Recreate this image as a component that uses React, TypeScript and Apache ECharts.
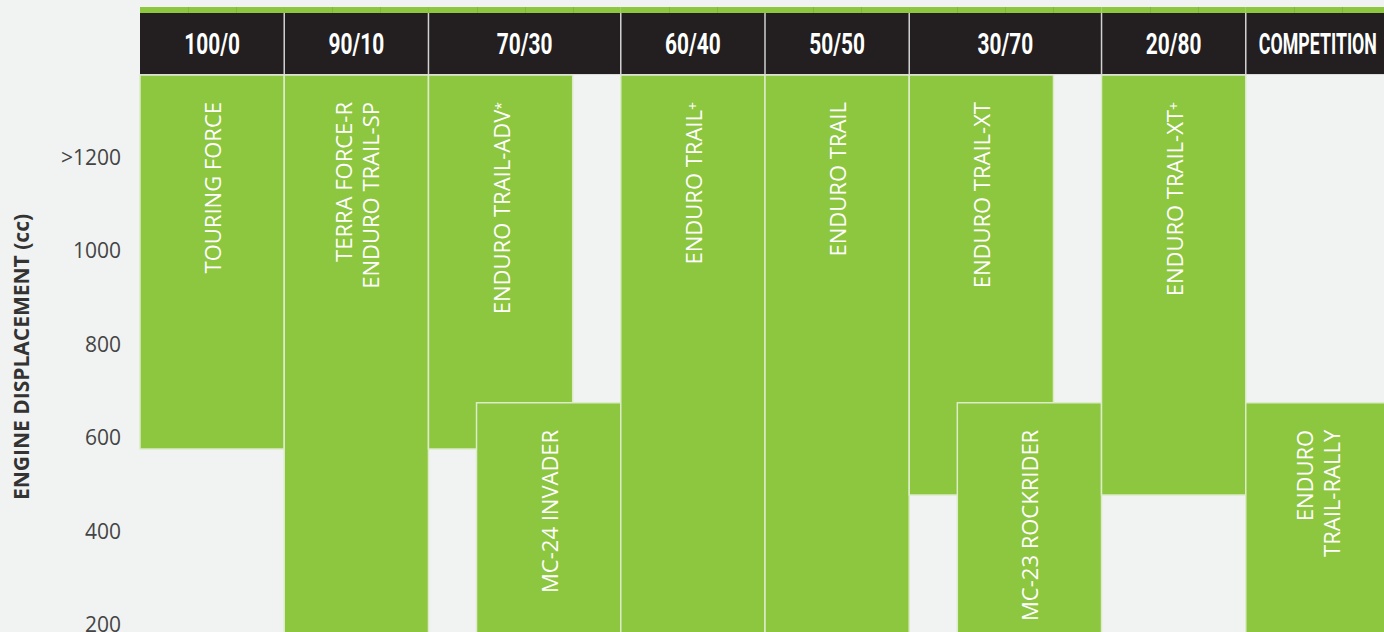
import React, { useEffect, useRef } from "react";
import * as echarts from "echarts";

// ---- data ----
const columnLabels = ["100/0", "90/10", "70/30", "60/40", "50/50", "30/70", "20/80", "COMPETITION"];
const columnStarts = [0, 3, 6, 10, 13, 16, 20, 23];
const columnEnds = [3, 6, 10, 13, 16, 20, 23, 26];

const barNames = [
  "TOURING FORCE",
  "TERRA FORCE-R\nENDURO TRAIL-SP",
  "ENDURO TRAIL-ADV{sup|*}",
  "MC-24 INVADER",
  "ENDURO TRAIL{sup|+}",
  "ENDURO TRAIL",
  "ENDURO TRAIL-XT",
  "MC-23 ROCKRIDER",
  "ENDURO TRAIL-XT{sup|+}",
  "ENDURO\nTRAIL-RALLY",
];
const barStarts = [0, 3, 6, 7, 10, 13, 16, 17, 20, 23];
const barEnds = [3, 6, 9, 10, 13, 16, 19, 20, 23, 26];
const barLows = [575, 100, 575, 100, 100, 100, 477, 100, 477, 100];
const barHighs = [1375, 1375, 1375, 674, 1375, 1375, 1375, 674, 1375, 674];

const yTickValues = [200, 400, 600, 800, 1000, 1200];
const yTickLabels = ["200", "400", "600", "800", "1000", ">1200"];
const yAxisName = "ENGINE DISPLACEMENT (cc)";

const Y_MIN = 0;
const Y_MAX = 1375;
const X_MIN = 0;
const X_MAX = 26;

const GREEN = "#8dc63f";
const DARK = "#231f20";
const BG = "#f1f3f2";

const HEADER_FONT = "Roboto";
let measureCtx: CanvasRenderingContext2D | null = null;
function headerScale(text: string): number {
  if (!measureCtx) {
    const c = document.createElement("canvas");
    measureCtx = c.getContext("2d");
  }
  if (!measureCtx) return 0.7;
  measureCtx.font = `700 29px ${HEADER_FONT}`;
  const w = measureCtx.measureText(text).width;
  return Math.min(0.72, 118 / w);
}

export default function App() {
  const ref = useRef<HTMLDivElement | null>(null);

  useEffect(() => {
    if (!ref.current) return;
    const chart = echarts.init(ref.current, undefined, { renderer: "svg" });

    const headerData = columnStarts.map((s, i) => [s, columnEnds[i], i]);
    const barData = barStarts.map((s, i) => [s, barEnds[i], barLows[i], barHighs[i]]);

    const option: any = {
      animation: false,
      backgroundColor: BG,
      grid: { left: 140, right: 0, top: 75, bottom: 0, containLabel: false },
      xAxis: {
        type: "value",
        min: X_MIN,
        max: X_MAX,
        show: false,
      },
      yAxis: {
        type: "value",
        min: Y_MIN,
        max: Y_MAX,
        interval: 200,
        axisLine: { show: false },
        axisTick: { show: false },
        splitLine: { show: false },
        axisLabel: {
          margin: 19,
          color: "#444444",
          fontFamily: "Open Sans",
          fontSize: 21,
          showMaxLabel: false,
          formatter: (v: number) => {
            const i = yTickValues.indexOf(v);
            return i >= 0 ? yTickLabels[i] : "";
          },
        },
      },
      graphic: [
        {
          type: "text",
          x: 21,
          y: 357,
          rotation: Math.PI / 2,
          style: {
            text: yAxisName,
            fill: "#333333",
            fontFamily: "Open Sans",
            fontWeight: 700,
            fontSize: 21,
            align: "center",
            verticalAlign: "middle",
          },
        },
      ],
      series: [
        {
          type: "custom",
          clip: false,
          z: 2,
          encode: { x: [0, 1] },
          data: barData,
          renderItem: (params: any, api: any) => {
            const i = params.dataIndex;
            const p0 = api.coord([api.value(0), api.value(3)]);
            const p1 = api.coord([api.value(1), api.value(2)]);
            const x0 = p0[0];
            const x1 = p1[0];
            const y0 = p0[1];
            const y1 = p1[1];
            return {
              type: "group",
              children: [
                {
                  type: "rect",
                  shape: { x: x0, y: y0, width: x1 - x0, height: y1 - y0 },
                  style: { fill: GREEN, stroke: "#dcebc8", lineWidth: 1.5 },
                },
                {
                  type: "text",
                  x: (x0 + x1) / 2,
                  y: y0 + 27,
                  rotation: Math.PI / 2,
                  style: {
                    text: barNames[i],
                    fill: "#ffffff",
                    fontFamily: "Open Sans",
                    fontSize: 22,
                    lineHeight: 27,
                    align: "right",
                    verticalAlign: "middle",
                    rich: {
                      sup: {
                        fill: "#ffffff",
                        fontFamily: "Open Sans",
                        fontSize: 14,
                        lineHeight: 27,
                      },
                    },
                  },
                },
              ],
            };
          },
        },
        {
          type: "custom",
          clip: false,
          z: 3,
          encode: { x: [0, 1] },
          data: headerData,
          renderItem: (params: any, api: any) => {
            const i = params.dataIndex;
            const x0 = api.coord([api.value(0), 0])[0];
            const x1 = api.coord([api.value(1), 0])[0];
            const unitW = api.size([1, 0])[0];
            const children: any[] = [
              {
                type: "rect",
                shape: { x: x0, y: 7, width: x1 - x0, height: 6 },
                style: { fill: GREEN },
              },
              {
                type: "rect",
                shape: { x: x0, y: 13, width: x1 - x0, height: 61 },
                style: { fill: DARK },
              },
              {
                type: "line",
                shape: { x1: x0, y1: 74.5, x2: x1, y2: 74.5 },
                style: { stroke: "#dcdcdc", lineWidth: 1 },
              },
            ];
            const n = Math.round((x1 - x0) / unitW);
            for (let k = 1; k <= n; k++) {
              const xx = Math.round(x0 + k * unitW) + 0.5;
              children.push({
                type: "line",
                shape: { x1: xx, y1: 7, x2: xx, y2: 13 },
                style: { stroke: "#80b838", lineWidth: 1 },
              });
            }
            if (i > 0) {
              children.push({
                type: "line",
                shape: { x1: x0, y1: 13, x2: x0, y2: 74 },
                style: { stroke: "#d2d2d2", lineWidth: 1.5 },
              });
            }
            const label = columnLabels[i];
            children.push({
              type: "text",
              x: (x0 + x1) / 2,
              y: 44.5,
              scaleX: headerScale(label),
              style: {
                text: label,
                fill: "#ffffff",
                fontFamily: HEADER_FONT,
                fontWeight: 700,
                fontSize: 29,
                align: "center",
                verticalAlign: "middle",
              },
            });
            return { type: "group", children };
          },
        },
      ],
    };

    chart.setOption(option);
    return () => {
      chart.dispose();
    };
  }, []);

  return (
    <div
      ref={ref}
      style={{ position: "fixed", left: 0, top: 0, width: 1390, height: 718, background: BG }}
    />
  );
}
